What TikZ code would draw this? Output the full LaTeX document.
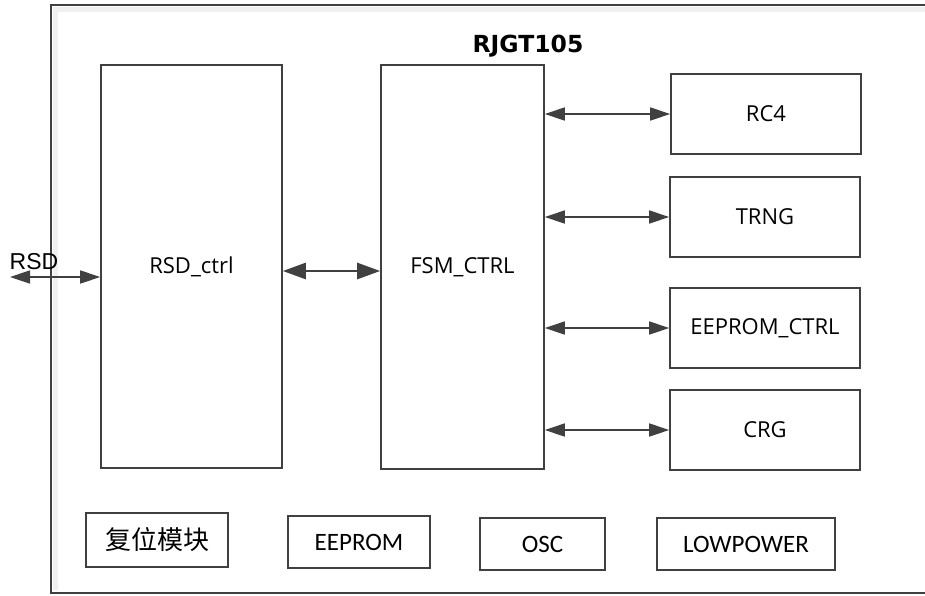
\documentclass[tikz,border=0pt]{standalone}
\usepackage{fontspec}
\usepackage{tikz}
\usetikzlibrary{arrows.meta}
\newfontfamily\boxfont{Open Sans}
\newfontfamily\rsdfont{Liberation Sans}
\newfontfamily\titlefont{DejaVu Sans}
\newfontfamily\lowfont{Carlito}
\newfontfamily\cjk{Noto Sans CJK SC}
\definecolor{linegray}{HTML}{404040}
\definecolor{shadegray}{HTML}{F0F0F0}

\begin{document}
\begin{tikzpicture}
  [x=1pt,y=-1pt,
   blk/.style={draw=linegray,line width=1.6pt,inner sep=0pt,
     font=\boxfont\fontsize{22}{25}\selectfont},
   lowblk/.style={draw=linegray,line width=1.6pt,inner sep=0pt,
     font=\lowfont\fontsize{25}{28}\selectfont},
   arr/.style={draw=linegray,line width=1.6pt,
     {Triangle[length=20pt,width=13pt]}-{Triangle[length=20pt,width=13pt]}},
   bigarr/.style={draw=linegray,line width=2.6pt,
     {Triangle[length=23pt,width=16pt]}-{Triangle[length=23pt,width=16pt]}}]
  \useasboundingbox (0,0) rectangle (925,595);

  % chip outline
  \draw[shadegray,line width=5pt] (925,9) -- (55,9) -- (55,590);
  \draw[linegray,line width=1.6pt] (925,5) -- (51,5) -- (51,593) -- (925,593);
  \node[font=\titlefont\bfseries\fontsize{23.5}{27}\selectfont] (chip) at (528,46) {RJGT105};

  % main blocks
  \node [blk,minimum width=181pt,minimum height=403pt] (rsdctrl) at (191.5,266.5) {RSD\_ctrl};
  \node [blk,minimum width=163pt,minimum height=404pt] (fsm) at (462.5,267) {FSM\_CTRL};

  \node [blk,minimum width=190pt,minimum height=80pt] (rc4) at (766,114) {RC4};
  \node [blk,minimum width=190pt,minimum height=80pt] (trng) at (765,217) {TRNG};
  \node [blk,minimum width=190pt,minimum height=80pt] (eectrl) at (765,328) {EEPROM\_CTRL};
  \node [blk,minimum width=190pt,minimum height=80pt] (crg) at (765,430) {CRG};

  % bottom blocks
  \node [lowblk,minimum width=142pt,minimum height=54pt] (rst) at (157,540) {\cjk\fontsize{26}{29}\selectfont 复位模块};
  \node [lowblk,minimum width=142pt,minimum height=52pt] (eeprom) at (359,542) {EEPROM};
  \node [lowblk,minimum width=125pt,minimum height=52pt] (osc) at (542.5,544) {OSC};
  \node [lowblk,minimum width=178pt,minimum height=52pt] (lowpower) at (746,544) {LOWPOWER};

  % external pin
  \coordinate (rsdpin) at (10,277);
  \node[font=\rsdfont\fontsize{23}{26}\selectfont] (rsdlabel) at (34,262) {RSD};
  \draw[arr] (rsdpin) -- (rsdctrl.west |- rsdpin);

  \draw[bigarr] (rsdctrl.east |- 0,271) -- (fsm.west |- 0,271);

  \foreach \to in {rc4,trng,eectrl,crg}
    \draw[arr] (fsm.east |- \to.west) -- (\to.west);

\end{tikzpicture}
\end{document}
